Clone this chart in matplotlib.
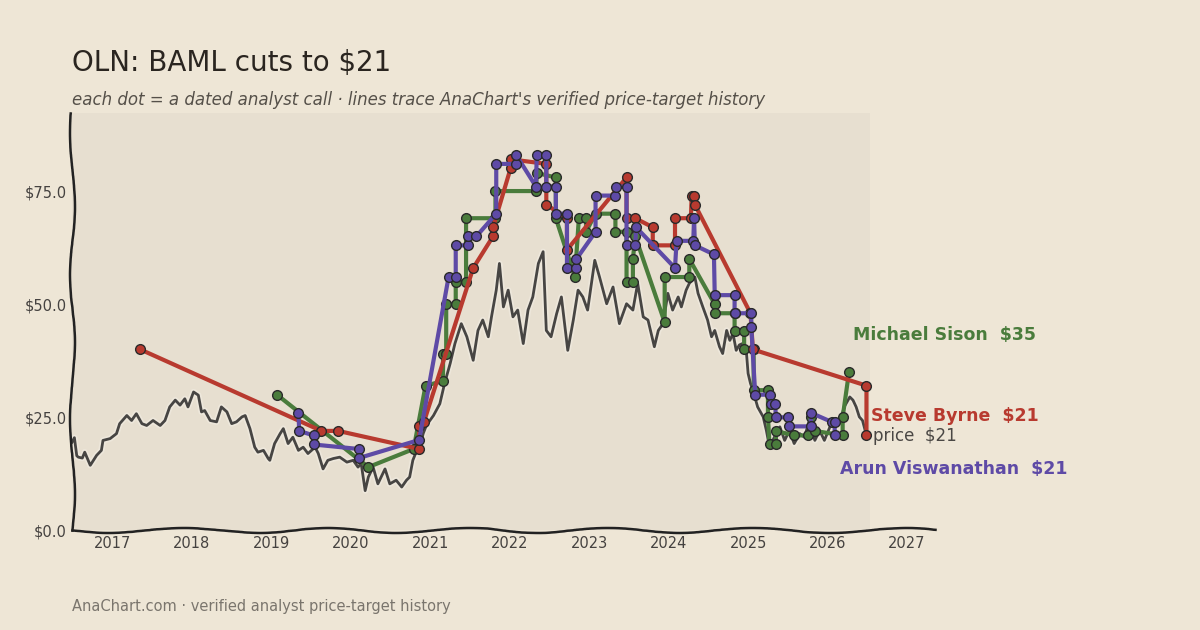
import matplotlib
matplotlib.use("Agg")
import matplotlib.pyplot as plt
import matplotlib.patheffects as pe

# OLN daily close (decimal year, $)
price_dates = [2016.49, 2016.52, 2016.55, 2016.57, 2016.62, 2016.65, 2016.72, 2016.80, 2016.86, 2016.88,
               2016.97, 2017.05, 2017.09, 2017.18, 2017.24, 2017.30, 2017.37, 2017.43, 2017.51, 2017.60,
               2017.66, 2017.72, 2017.79, 2017.85, 2017.91, 2017.95, 2018.02, 2018.08, 2018.12, 2018.16,
               2018.23, 2018.31, 2018.37, 2018.44, 2018.50, 2018.56, 2018.63, 2018.67, 2018.73, 2018.79,
               2018.83, 2018.90, 2018.96, 2018.98, 2019.04, 2019.11, 2019.15, 2019.21, 2019.27, 2019.34,
               2019.40, 2019.46, 2019.55, 2019.59, 2019.65, 2019.71, 2019.78, 2019.86, 2019.95, 2020.03,
               2020.09, 2020.13, 2020.18, 2020.22, 2020.28, 2020.34, 2020.43, 2020.49, 2020.57, 2020.64,
               2020.70, 2020.74, 2020.78, 2020.83, 2020.87, 2020.91, 2020.95, 2021.04, 2021.12, 2021.18,
               2021.25, 2021.31, 2021.39, 2021.46, 2021.54, 2021.60, 2021.66, 2021.73, 2021.77, 2021.83,
               2021.87, 2021.92, 2021.98, 2022.04, 2022.10, 2022.17, 2022.23, 2022.29, 2022.36, 2022.42,
               2022.46, 2022.52, 2022.59, 2022.65, 2022.73, 2022.80, 2022.86, 2022.92, 2022.98, 2023.07,
               2023.13, 2023.22, 2023.30, 2023.38, 2023.47, 2023.55, 2023.61, 2023.68, 2023.74, 2023.82,
               2023.87, 2023.93, 2023.99, 2024.05, 2024.12, 2024.16, 2024.22, 2024.26, 2024.33, 2024.37,
               2024.43, 2024.49, 2024.54, 2024.58, 2024.64, 2024.68, 2024.73, 2024.77, 2024.81, 2024.85,
               2024.89, 2024.93, 2024.98, 2025.00, 2025.03, 2025.06, 2025.12, 2025.19, 2025.23, 2025.27,
               2025.33, 2025.40, 2025.46, 2025.52, 2025.58, 2025.65, 2025.71, 2025.77, 2025.84, 2025.90,
               2025.96, 2026.03, 2026.09, 2026.15, 2026.21, 2026.28, 2026.32, 2026.36, 2026.40, 2026.44,
               2026.49]
price_vals = [19.5, 20.5, 16.5, 16.2, 16.0, 17.3, 14.4, 16.6, 17.7, 19.9,
              20.3, 21.4, 23.6, 25.4, 24.3, 25.8, 23.6, 23.2, 24.3, 23.2,
              24.3, 27.3, 28.8, 27.7, 29.1, 27.3, 30.6, 29.9, 26.2, 26.5,
              24.3, 24.0, 27.3, 26.2, 23.6, 24.0, 25.1, 25.4, 22.5, 18.4,
              17.3, 17.7, 15.9, 15.5, 19.2, 21.4, 22.5, 19.2, 20.6, 17.7,
              18.4, 17.0, 18.4, 17.0, 13.6, 15.5, 15.9, 16.2, 15.1, 15.5,
              14.0, 14.8, 8.8, 11.8, 14.0, 10.3, 13.6, 10.3, 11.1, 9.6,
              11.1, 11.8, 15.5, 17.7, 18.4, 21.4, 23.2, 25.4, 28.0, 32.5,
              36.9, 41.3, 45.7, 42.8, 37.6, 44.2, 46.5, 42.8, 47.2, 53.1,
              59.0, 49.4, 53.1, 47.2, 48.7, 41.3, 48.7, 51.6, 59.0, 61.6,
              44.2, 42.8, 47.9, 51.6, 39.8, 46.5, 53.1, 51.6, 48.7, 59.7,
              56.0, 50.1, 53.8, 45.7, 50.1, 48.7, 54.6, 47.2, 46.5, 40.6,
              44.2, 45.7, 52.4, 48.7, 51.6, 49.4, 53.1, 54.6, 56.0, 52.4,
              49.4, 46.5, 42.8, 44.2, 40.6, 39.1, 44.2, 42.0, 43.5, 39.8,
              41.0, 41.3, 39.1, 34.7, 32.5, 31.0, 27.3, 25.1, 22.1, 18.4,
              20.6, 22.9, 19.9, 22.1, 19.2, 21.4, 20.6, 24.3, 19.9, 22.1,
              19.9, 22.9, 24.3, 23.6, 27.3, 29.5, 28.8, 27.3, 25.1, 24.3,
              21.0]

# analyst price-target histories (each call = from/to dot pair)
sison_dates = [2019.07, 2020.22, 2020.79, 2020.94, 2021.16, 2021.16, 2021.20, 2021.20, 2021.32, 2021.32,
               2021.45, 2021.45, 2021.82, 2021.82, 2022.33, 2022.34, 2022.58, 2022.58, 2022.82, 2022.87,
               2022.96, 2022.96, 2023.08, 2023.33, 2023.33, 2023.47, 2023.47, 2023.55, 2023.55, 2023.58,
               2023.95, 2023.95, 2024.26, 2024.26, 2024.58, 2024.58, 2024.83, 2024.83, 2024.95, 2024.95,
               2025.07, 2025.07, 2025.25, 2025.25, 2025.27, 2025.35, 2025.35, 2025.58, 2025.76, 2025.79,
               2025.84, 2026.19, 2026.19, 2026.27]
sison_vals = [30, 14, 18, 32, 33, 39, 39, 50, 50, 55,
              55, 69, 69, 75, 75, 79, 78, 69, 56, 69,
              69, 66, 70, 70, 66, 66, 55, 55, 60, 65,
              46, 56, 56, 60, 50, 48, 48, 44, 44, 40,
              40, 31, 31, 25, 19, 19, 22, 21, 21, 25,
              22, 21, 25, 35]

byrne_dates = [2017.35, 2019.63, 2019.84, 2020.86, 2020.86, 2020.92, 2021.54, 2021.79, 2021.79, 2022.01,
               2022.02, 2022.46, 2022.46, 2022.72, 2022.72, 2023.47, 2023.47, 2023.58, 2023.80, 2023.80,
               2024.08, 2024.08, 2024.28, 2024.29, 2024.32, 2024.33, 2025.03, 2025.06, 2026.49, 2026.49]
byrne_vals = [40, 22, 22, 18, 23, 24, 58, 65, 67, 80,
              82, 81, 72, 69, 62, 78, 69, 69, 67, 63,
              63, 69, 69, 74, 74, 72, 48, 40, 32, 21]

arun_dates = [2019.34, 2019.35, 2019.53, 2019.53, 2020.10, 2020.10, 2020.86, 2021.23, 2021.32, 2021.32,
              2021.48, 2021.48, 2021.58, 2021.83, 2021.83, 2022.08, 2022.08, 2022.33, 2022.34, 2022.46,
              2022.46, 2022.58, 2022.58, 2022.72, 2022.72, 2022.83, 2022.84, 2023.08, 2023.08, 2023.33,
              2023.34, 2023.47, 2023.47, 2023.58, 2023.59, 2024.08, 2024.10, 2024.31, 2024.32, 2024.33,
              2024.57, 2024.58, 2024.83, 2024.83, 2025.04, 2025.04, 2025.09, 2025.27, 2025.29, 2025.34,
              2025.35, 2025.50, 2025.51, 2025.79, 2025.79, 2026.05, 2026.09, 2026.09]
arun_vals = [26, 22, 21, 19, 18, 16, 20, 56, 56, 63,
             63, 65, 65, 70, 81, 81, 83, 76, 83, 83,
             76, 76, 70, 70, 58, 58, 60, 66, 74, 74,
             76, 76, 63, 63, 67, 58, 64, 64, 69, 63,
             61, 52, 52, 48, 48, 45, 30, 30, 28, 28,
             25, 25, 23, 23, 26, 24, 24, 21]

year_ticks = list(range(2017, 2028))
price_ticks = [0, 25, 50, 75]

BG = "#eee6d6"
SHADE = "#e7dfd0"
GREEN = "#4a7c3c"
RED = "#b83a2f"
PURPLE = "#5e4aa6"

fig = plt.figure(figsize=(12, 6.3), dpi=100, facecolor=BG)
ax = fig.add_axes([0.06, 0.158, 0.719, 0.663])
ax.set_facecolor(BG)
ax.set_xlim(2016.49, 2027.35)
ax.set_ylim(0, 92.3)
ax.axvspan(2016.49, price_dates[-1] + 0.04, color=SHADE, lw=0, zorder=0)

ax.plot(price_dates, price_vals, color="#474543", lw=2.0, zorder=2,
        path_effects=[pe.withStroke(linewidth=4.5, foreground="#f4efe6", alpha=0.5)])

for d, v, c in [(sison_dates, sison_vals, GREEN), (byrne_dates, byrne_vals, RED),
                (arun_dates, arun_vals, PURPLE)]:
    ax.plot(d, v, color=c, lw=3.0, zorder=3, solid_joinstyle="round",
            marker="o", ms=7, mfc=c, mec="#2a2a2a", mew=1.0)

# end labels
ax.annotate("Michael Sison  $35", (sison_dates[-1], sison_vals[-1]), xytext=(2.7, 26.6),
            textcoords="offset points", color=GREEN, fontsize=12.5, fontweight="bold", va="center")
ax.annotate("Steve Byrne  $21", (byrne_dates[-1], byrne_vals[-1]), xytext=(3.4, 13.7),
            textcoords="offset points", color=RED, fontsize=12.5, fontweight="bold", va="center")
ax.annotate("price  $21", (price_dates[-1], price_vals[-1]), xytext=(4.8, -0.7),
            textcoords="offset points", color="#4a4744", fontsize=12, va="center")
ax.annotate("Arun Viswanathan  $21", (arun_dates[-1], arun_vals[-1]), xytext=(3.6, -24.5),
            textcoords="offset points", color=PURPLE, fontsize=12.5, fontweight="bold", va="center")

for s in ["top", "right"]:
    ax.spines[s].set_visible(False)
for s in ["left", "bottom"]:
    ax.spines[s].set_color("#222222")
    ax.spines[s].set_linewidth(1.8)
    ax.spines[s].set_sketch_params(scale=2.5, length=160, randomness=2)

ax.set_xticks(year_ticks)
ax.set_xticklabels([str(y) for y in year_ticks])
ax.set_yticks(price_ticks)
ax.set_yticklabels([f"${v:.1f}" for v in price_ticks])
ax.tick_params(length=0, labelsize=10.5, colors="#454240", pad=4)

fig.text(0.06, 0.90, "OLN: BAML cuts to $21", fontsize=20, color="#2a2520", va="center")
fig.text(0.06, 0.841, "each dot = a dated analyst call \u00b7 lines trace AnaChart's verified price-target history",
         fontsize=12, style="italic", color="#555049", va="center")
fig.text(0.06, 0.038, "AnaChart.com \u00b7 verified analyst price-target history",
         fontsize=10.5, color="#7a756d", va="center")

fig.savefig("out.png", dpi=100, facecolor=BG)
